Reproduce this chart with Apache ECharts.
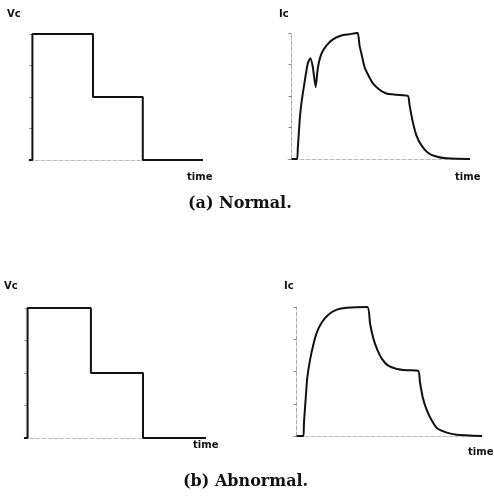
<!DOCTYPE html>
<html>
<head>
<meta charset="utf-8">
<script src="https://cdn.jsdelivr.net/npm/echarts@6/dist/echarts.min.js"></script>
<style>
  html, body { margin: 0; padding: 0; background: #fff; }
  #main { width: 494px; height: 504px; }
</style>
</head>
<body>
<div id="main"></div>
<script>
// Vc: step voltage, same for both cases
var vcTime   = [-0.2, 0, 0, 3.55, 3.55, 6.47, 6.47, 10];
var vcValues = [0, 0, 1, 1, 0.5, 0.5, 0, 0];

// Ic normal (has a kink on the rising edge)
var icNormalTime = [0, 0.30, 0.35, 0.45, 0.54, 0.73, 0.91, 1.05, 1.19, 1.35, 1.47, 1.66, 1.95, 2.32, 2.79, 3.25, 3.68, 3.72,
                    3.81, 3.91, 4.09, 4.28, 4.56, 4.93, 5.31, 5.87, 6.52,
                    6.61, 6.77, 6.99, 7.27, 7.64, 8.11, 8.67, 9.88, 10];
var icNormal     = [0, 0, 0.085, 0.30, 0.43, 0.61, 0.76, 0.80, 0.73, 0.57, 0.72, 0.83, 0.90, 0.95, 0.98, 0.99, 1.0, 1.0,
                    0.90, 0.84, 0.73, 0.67, 0.60, 0.55, 0.52, 0.51, 0.50,
                    0.43, 0.31, 0.19, 0.11, 0.05, 0.02, 0.006, 0, 0];

// Ic abnormal (smooth rise)
var icAbnormalTime = [0, 0.36, 0.39, 0.49, 0.57, 0.72, 0.90, 1.08, 1.35, 1.71, 2.16, 2.70, 3.81,
                      3.96, 4.13, 4.32, 4.59, 4.94, 5.40, 5.94, 6.56,
                      6.65, 6.80, 7.02, 7.29, 7.58, 8.10, 8.63, 10];
var icAbnormal     = [0, 0, 0.10, 0.30, 0.45, 0.59, 0.71, 0.80, 0.88, 0.94, 0.98, 0.995, 1.0,
                      0.87, 0.76, 0.68, 0.60, 0.545, 0.52, 0.51, 0.505,
                      0.42, 0.30, 0.20, 0.12, 0.06, 0.026, 0.01, 0];

function pairs(xs, ys) {
  var out = [];
  for (var i = 0; i < xs.length; i++) out.push([xs[i], ys[i]]);
  return out;
}

var grids = [
  { left: 29,  top: 34,  width: 174, height: 126 },
  { left: 288, top: 33,  width: 182, height: 126 },
  { left: 24,  top: 308, width: 182, height: 130 },
  { left: 293, top: 307, width: 189, height: 129 }
];

var xAxes = [], yAxes = [], series = [];
var curves = [
  pairs(vcTime, vcValues),
  pairs(icNormalTime, icNormal),
  pairs(vcTime, vcValues),
  pairs(icAbnormalTime, icAbnormal)
];

for (var g = 0; g < 4; g++) {
  xAxes.push({
    gridIndex: g, type: 'value', min: -0.2, max: 10,
    axisLine: { show: true, lineStyle: { color: '#bbb', type: 'dashed', width: 1 } },
    axisTick: { show: false }, axisLabel: { show: false }, splitLine: { show: false }
  });
  yAxes.push({
    gridIndex: g, type: 'value', min: 0, max: 1, interval: 0.25,
    axisLine: { show: true, onZero: true, lineStyle: { color: '#aaa', type: 'dashed', width: 1 } },
    axisTick: { show: true, length: 3, lineStyle: { color: '#888' } },
    axisLabel: { show: false }, splitLine: { show: false }
  });
  series.push({
    type: 'line', xAxisIndex: g, yAxisIndex: g,
    data: curves[g], showSymbol: false, clip: false,
    smooth: (g % 2 == 1) ? 0.2 : false,
    lineStyle: { color: '#111', width: 2 }
  });
}

function label(text, left, top, size) {
  return {
    type: 'text', left: left, top: top,
    style: { text: text, fill: '#111', font: 'bold ' + size + 'px "DejaVu Sans", sans-serif' }
  };
}
function caption(text, left, top) {
  return {
    type: 'text', left: left, top: top,
    style: { text: text, fill: '#111', font: 'bold 16px "DejaVu Serif", serif' }
  };
}

var option = {
  backgroundColor: '#fff',
  animation: false,
  grid: grids,
  xAxis: xAxes,
  yAxis: yAxes,
  series: series,
  graphic: [
    label('Vc', 7, 9, 10),
    label('time', 187, 172, 10),
    label('Ic', 279, 9, 10),
    label('time', 455, 172, 10),
    label('Vc', 4, 281, 10),
    label('time', 193, 440, 10),
    label('Ic', 284, 281, 10),
    label('time', 468, 447, 10),
    caption('(a) Normal.', 188, 196),
    caption('(b) Abnormal.', 183, 474)
  ]
};

var myChart = echarts.init(document.getElementById('main'));
myChart.setOption(option);
</script>
</body>
</html>
